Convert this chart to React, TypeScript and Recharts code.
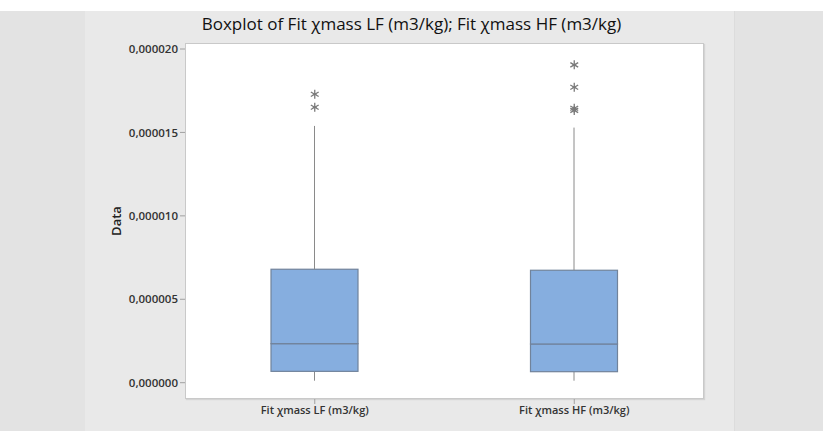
import { ComposedChart, Bar, Scatter, XAxis, YAxis } from "recharts";

const categories = ["Fit χmass LF (m3/kg)", "Fit χmass HF (m3/kg)"];
const whiskerLow = [0.12e-6, 0.12e-6];
const q1 = [0.68e-6, 0.66e-6];
const median = [2.34e-6, 2.32e-6];
const q3 = [6.8e-6, 6.74e-6];
const whiskerHigh = [15.39e-6, 15.29e-6];
const outliers = [
    [17.29e-6, 16.51e-6],
    [19.05e-6, 17.71e-6, 16.45e-6, 16.32e-6],
];
const yTicks = [0, 5e-6, 10e-6, 15e-6, 20e-6];

const FONT = "'Open Sans', 'Noto Sans', sans-serif";
const BOX_FILL = "#86aedf";
const BOX_STROKE = "#71839b";
const WHISKER = "#8a8a8a";

const data = categories.map((name, i) => ({
    name,
    base: whiskerLow[i],
    lowW: q1[i] - whiskerLow[i],
    lowBox: median[i] - q1[i],
    highBox: q3[i] - median[i],
    highW: whiskerHigh[i] - q3[i],
    out1: outliers[i][0],
    out2: outliers[i][1],
    out3: outliers[i][2],
    out4: outliers[i][3],
}));

function Whisker(props: any) {
    const { x, y, width, height } = props;
    const cx = x + width / 2;
    return <line x1={cx} x2={cx} y1={y} y2={y + height} stroke={WHISKER} strokeWidth={1} />;
}

function BoxPart(props: any) {
    const { x, y, width, height } = props;
    return <rect x={x} y={y} width={width} height={height} fill={BOX_FILL} stroke={BOX_STROKE} strokeWidth={1.2} />;
}

// minitab style asterisk for outliers
function Star(props: any) {
    const { cx, cy } = props;
    if (!Number.isFinite(cx) || !Number.isFinite(cy)) return null;
    const r = 4.5;
    const d = r * 0.87;
    return (
        <g stroke="#7a7a7a" strokeWidth={1.3}>
            <line x1={cx} x2={cx} y1={cy - r} y2={cy + r} />
            <line x1={cx - d} x2={cx + d} y1={cy - r / 2} y2={cy + r / 2} />
            <line x1={cx - d} x2={cx + d} y1={cy + r / 2} y2={cy - r / 2} />
            <line x1={cx - 2} x2={cx + 2} y1={cy} y2={cy} />
        </g>
    );
}

const fmt = (v: number) => v.toFixed(6).replace(".", ",");

export default function App() {
    return (
        <div style={{ position: "absolute", left: 0, top: 0, width: 823, height: 431, background: "#fff", overflow: "hidden" }}>
            <div style={{ position: "absolute", left: 0, top: 11, width: 823, height: 420, background: "#e3e3e3" }} />
            <div style={{ position: "absolute", left: 85, top: 11, width: 649, height: 420, background: "#e9e9e9", borderRight: "1px solid #dcdcdc" }} />
            <div
                style={{
                    position: "absolute",
                    left: 185,
                    top: 43,
                    width: 519,
                    height: 356,
                    boxSizing: "border-box",
                    background: "#fff",
                    border: "1px solid #c9c9c9",
                    boxShadow: "1px 1px 1px #d4d4d4",
                }}
            />
            <div
                style={{
                    position: "absolute",
                    left: 0,
                    width: 823,
                    top: 12,
                    textAlign: "center",
                    fontFamily: FONT,
                    fontSize: 17,
                    fontWeight: 500,
                    color: "#111",
                }}
            >
                Boxplot of Fit χmass LF (m3/kg); Fit χmass HF (m3/kg)
            </div>
            <div style={{ position: "absolute", left: 0, top: 0 }}>
                <ComposedChart
                    width={823}
                    height={431}
                    data={data}
                    margin={{ top: 43, right: 119, bottom: 0, left: 105 }}
                    barSize={87}
                >
                    <XAxis
                        dataKey="name"
                        height={32}
                        axisLine={false}
                        tickLine={{ stroke: "#a0a0a0" }}
                        tickSize={5}
                        tick={{ fill: "#333", fontSize: 11, fontWeight: 600, fontFamily: FONT }}
                    />
                    <YAxis
                        width={80}
                        type="number"
                        domain={[-0.977e-6, 20.36e-6]}
                        allowDataOverflow
                        ticks={yTicks}
                        tickFormatter={fmt}
                        axisLine={false}
                        tickLine={{ stroke: "#a0a0a0" }}
                        tickSize={5}
                        tick={{ fill: "#333", fontSize: 11.5, fontWeight: 600, fontFamily: FONT }}
                        label={{
                            value: "Data",
                            angle: -90,
                            position: "insideLeft",
                            offset: 11,
                            style: { fill: "#222", fontSize: 13, fontWeight: 600, fontFamily: FONT, textAnchor: "middle" },
                        }}
                    />
                    <Bar dataKey="base" stackId="a" fill="none" isAnimationActive={false} />
                    <Bar dataKey="lowW" stackId="a" shape={Whisker} isAnimationActive={false} />
                    <Bar dataKey="lowBox" stackId="a" shape={BoxPart} isAnimationActive={false} />
                    <Bar dataKey="highBox" stackId="a" shape={BoxPart} isAnimationActive={false} />
                    <Bar dataKey="highW" stackId="a" shape={Whisker} isAnimationActive={false} />
                    <Scatter dataKey="out1" shape={Star} isAnimationActive={false} />
                    <Scatter dataKey="out2" shape={Star} isAnimationActive={false} />
                    <Scatter dataKey="out3" shape={Star} isAnimationActive={false} />
                    <Scatter dataKey="out4" shape={Star} isAnimationActive={false} />
                </ComposedChart>
            </div>
        </div>
    );
}
